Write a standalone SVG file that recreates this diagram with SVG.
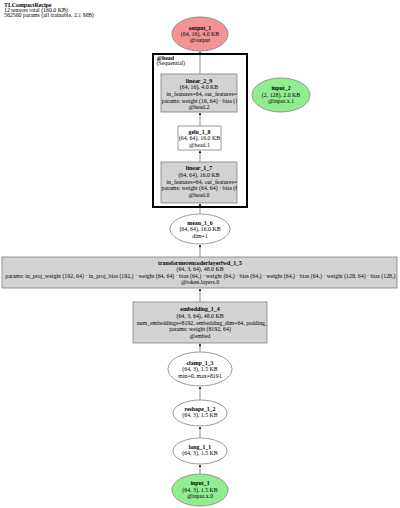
<svg xmlns="http://www.w3.org/2000/svg" width="400" height="508" viewBox="0 0 400 508">
<style>
text{font-family:"Liberation Serif","DejaVu Serif",serif;font-size:5.85px;fill:#000}
.c{text-anchor:middle}
.b{font-weight:bold}
.box{fill:#d3d3d3;stroke:#808080;stroke-width:0.8}
.wbox{fill:#fff;stroke:#808080;stroke-width:0.8}
.ell{fill:#fff;stroke:#808080;stroke-width:0.8}
.red{fill:#f29494;stroke:#808080;stroke-width:0.8}
.grn{fill:#90ee90;stroke:#808080;stroke-width:0.8}
.e{stroke:#a8a8a8;stroke-width:1.3;fill:none;marker-end:url(#ah)}
</style>
<defs>
<marker id="ah" viewBox="0 0 6 6" refX="6" refY="3" markerWidth="2.2" markerHeight="2.2" orient="auto" markerUnits="strokeWidth">
<path d="M0,0 L6,3 L0,6 z" fill="#000"/>
</marker>
<clipPath id="cl29"><rect x="161" y="74" width="76" height="38"/></clipPath>
<clipPath id="cl17"><rect x="161" y="162" width="76" height="41"/></clipPath>
<clipPath id="cltr"><rect x="2" y="257" width="395" height="31"/></clipPath>
<clipPath id="clem"><rect x="133" y="302" width="134" height="41"/></clipPath>
</defs>

<g id="title">
<text x="4" y="6.5" class="b">TLCompactRecipe</text>
<text x="4" y="11.5">12 tensors total (160.0 KB)</text>
<text x="4" y="16.5">562560 params (all trainable, 2.1 MB)</text>
</g>

<g id="edges">
<line class="e" x1="200" y1="474" x2="200" y2="464.5"/>
<line class="e" x1="200" y1="438" x2="200" y2="426.5"/>
<line class="e" x1="200" y1="400" x2="200" y2="386.5"/>
<line class="e" x1="200" y1="352" x2="200" y2="343.5"/>
<line class="e" x1="200" y1="302" x2="200" y2="288.5"/>
<line class="e" x1="200" y1="257" x2="200" y2="244.5"/>
<line class="e" x1="200" y1="214" x2="200" y2="203.5"/>
<line class="e" x1="200" y1="162" x2="200" y2="150.5"/>
<line class="e" x1="200" y1="126" x2="200" y2="112.5"/>
<line class="e" x1="200" y1="74" x2="200" y2="51.5"/>
</g>

<g id="cluster_head">
<rect x="153" y="54" width="94" height="153" fill="none" stroke="#000" stroke-width="2"/>
<text x="156.5" y="60" class="b">@head</text>
<text x="156.5" y="65.3">(Sequential)</text>
</g>

<g id="output_1">
<ellipse class="red" cx="200" cy="34" rx="28" ry="17"/>
<text x="200" y="30.3" class="c b">output_1</text>
<text x="200" y="36.3" class="c">(64, 16), 4.0 KB</text>
<text x="200" y="42.3" class="c">@output</text>
</g>

<g id="linear_2_9">
<rect class="box" x="161" y="74" width="76" height="38"/>
<g clip-path="url(#cl29)">
<text x="199" y="82.7" class="c b">linear_2_9</text>
<text x="199" y="89.3" class="c">(64, 16), 4.0 KB</text>
<text x="166.5" y="95.9">in_features=64, out_features=16</text>
<text x="161.8" y="102.5">params: weight (16, 64) · bias (16,)</text>
<text x="199" y="109.1" class="c">@head.2</text>
</g>
</g>

<g id="gelu_1_8">
<rect class="wbox" x="178" y="126" width="43" height="24"/>
<text x="199.5" y="133.5" class="c b">gelu_1_8</text>
<text x="199.5" y="140" class="c">(64, 64), 16.0 KB</text>
<text x="199.5" y="146.5" class="c">@head.1</text>
</g>

<g id="linear_1_7">
<rect class="box" x="161" y="162" width="76" height="41"/>
<g clip-path="url(#cl17)">
<text x="199" y="170.3" class="c b">linear_1_7</text>
<text x="199" y="176.9" class="c">(64, 64), 16.0 KB</text>
<text x="166.5" y="183.5">in_features=64, out_features=64</text>
<text x="161.8" y="190.1">params: weight (64, 64) · bias (64,)</text>
<text x="199" y="196.7" class="c">@head.0</text>
</g>
</g>

<g id="input_2">
<ellipse class="grn" cx="281" cy="95" rx="29" ry="17"/>
<text x="281" y="90" class="c b">input_2</text>
<text x="281" y="96.5" class="c">(2, 128), 2.0 KB</text>
<text x="281" y="103" class="c">@input.x.1</text>
</g>

<g id="mean_1_6">
<ellipse class="ell" cx="200" cy="229" rx="30" ry="15"/>
<text x="200" y="224.5" class="c b">mean_1_6</text>
<text x="200" y="231" class="c">(64, 64), 16.0 KB</text>
<text x="200" y="237.5" class="c">dim=1</text>
</g>

<g id="transformerencoderlayerfwd_1_5">
<rect class="box" x="2" y="257" width="395" height="31"/>
<g clip-path="url(#cltr)">
<text x="200" y="264.7" class="c b">transformerencoderlayerfwd_1_5</text>
<text x="200" y="271.2" class="c">(64, 3, 64), 48.0 KB</text>
<text x="5.3" y="277.7">params: in_proj_weight (192, 64) · in_proj_bias (192,) · weight (64, 64) · bias (64,) · weight (64,) · bias (64,) · weight (64,) · bias (64,) · weight (128, 64) · bias (128,) · weight (64, 128) · bias (64,)</text>
<text x="200" y="284.2" class="c">@token.layers.0</text>
</g>
</g>

<g id="embedding_1_4">
<rect class="box" x="133" y="302" width="134" height="41"/>
<g clip-path="url(#clem)">
<text x="200" y="311.3" class="c b">embedding_1_4</text>
<text x="200" y="317.9" class="c">(64, 3, 64), 48.0 KB</text>
<text x="136.7" y="324.5">num_embeddings=8192, embedding_dim=64, padding_idx=None</text>
<text x="200" y="331.1" class="c">params: weight (8192, 64)</text>
<text x="200" y="337.7" class="c">@embed</text>
</g>
</g>

<g id="clamp_1_3">
<ellipse class="ell" cx="200" cy="369" rx="32" ry="17"/>
<text x="200" y="364.7" class="c b">clamp_1_3</text>
<text x="200" y="371.3" class="c">(64, 3), 1.5 KB</text>
<text x="200" y="378" class="c">min=0, max=8191</text>
</g>

<g id="reshape_1_2">
<ellipse class="ell" cx="200" cy="413" rx="27" ry="13"/>
<text x="200" y="410.7" class="c b">reshape_1_2</text>
<text x="200" y="417.3" class="c">(64, 3), 1.5 KB</text>
</g>

<g id="long_1_1">
<ellipse class="ell" cx="200" cy="451" rx="27" ry="13"/>
<text x="200" y="448.7" class="c b">long_1_1</text>
<text x="200" y="455.3" class="c">(64, 3), 1.5 KB</text>
</g>

<g id="input_1">
<ellipse class="grn" cx="200" cy="490" rx="28" ry="16"/>
<text x="200" y="485" class="c b">input_1</text>
<text x="200" y="491.5" class="c">(64, 3), 1.5 KB</text>
<text x="200" y="498" class="c">@input.x.0</text>
</g>
</svg>
